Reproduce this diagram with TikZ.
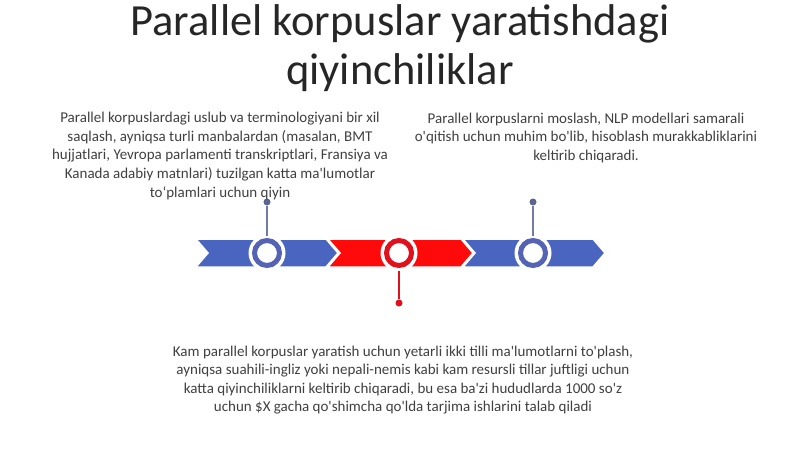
\documentclass[tikz,border=0pt]{standalone}
\usepackage{fontspec}
\setmainfont{Carlito}
\newcommand\ap{\textquotesingle}
\definecolor{chevblue}{HTML}{4A65C0}
\definecolor{ringblue}{HTML}{5563B5}
\definecolor{linkgray}{HTML}{6F7BA8}
\definecolor{dotgray}{HTML}{5A6690}
\definecolor{chevred}{HTML}{FF0A0A}
\definecolor{ringred}{HTML}{E0101C}
\definecolor{bodytext}{HTML}{404040}
\definecolor{titletext}{HTML}{262626}
\tikzset{
  chev/.style={draw=white, line width=1.5pt, line join=miter},
  halo/.style={circle, fill=white, minimum size=37pt, inner sep=0pt},
  ring/.style={circle, fill=white, line width=5pt, minimum size=25pt, inner sep=0pt},
  pin/.style={circle, inner sep=0pt, minimum size=7pt},
  link/.style={line width=1.5pt},
  body/.style={align=center, text=bodytext, font=\fontsize{15pt}{18.6pt}\selectfont, inner sep=0pt},
  titlestyle/.style={align=center, text=titletext, font=\fontsize{44.5pt}{49pt}\selectfont, inner sep=0pt}
}
\begin{document}
\begin{tikzpicture}[x=1pt,y=-1pt]
\useasboundingbox (0,0) rectangle (800,449);
\fill[white] (0,0) rectangle (800,449);

% title
\node[titlestyle] (title) at (400,48) {Parallel korpuslar yaratishdagi\\qiyinchiliklar};

% chevrons
\fill[chevblue, chev] (196,239) -- (326,239) -- (338,253) -- (326,267) -- (196,267) -- (208,253) -- cycle;
\fill[chevred, chev] (328,239) -- (461,239) -- (473,253) -- (461,267) -- (328,267) -- (340,253) -- cycle;
\fill[chevblue, chev] (463,239) -- (593,239) -- (605,253) -- (593,267) -- (463,267) -- (475,253) -- cycle;

% halos and rings
\node[halo] (h1) at (267,253) {};
\node[halo] (h2) at (399,253) {};
\node[halo] (h3) at (533,253) {};
\node[ring, draw=ringblue] (c1) at (267,253) {};
\node[ring, draw=ringred] (c2) at (399,253) {};
\node[ring, draw=ringblue] (c3) at (533,253) {};

% pins
\node[pin, fill=dotgray] (d1) at (267,202) {};
\node[pin, fill=ringred] (d2) at (399,303) {};
\node[pin, fill=dotgray] (d3) at (533,202) {};
\draw[link, draw=linkgray] (c1.north) ++(0,-2.5) -- (d1);
\draw[link, draw=linkgray] (c3.north) ++(0,-2.5) -- (d3);
\draw[link, draw=ringred] (c2.south) ++(0,2.5) -- (d2);

% texts
\node[body] (t1) at (220,156) {Parallel korpuslardagi uslub va terminologiyani bir xil\\saqlash, ayniqsa turli manbalardan (masalan, BMT\\hujjatlari, Yevropa parlamenti transkriptlari, Fransiya va\\Kanada adabiy matnlari) tuzilgan katta ma\ap lumotlar\\to‘plamlari uchun qiyin};
\node[body] (t2) at (586,138) {Parallel korpuslarni moslash, NLP modellari samarali\\o\ap qitish uchun muhim bo\ap lib, hisoblash murakkabliklarini\\keltirib chiqaradi.};
\node[body] (t3) at (403,380) {Kam parallel korpuslar yaratish uchun yetarli ikki tilli ma\ap lumotlarni to\ap plash,\\ayniqsa suahili-ingliz yoki nepali-nemis kabi kam resursli tillar juftligi uchun\\katta qiyinchiliklarni keltirib chiqaradi, bu esa ba\ap zi hududlarda 1000 so\ap z\\uchun \$X gacha qo\ap shimcha qo\ap lda tarjima ishlarini talab qiladi};
\end{tikzpicture}
\end{document}
